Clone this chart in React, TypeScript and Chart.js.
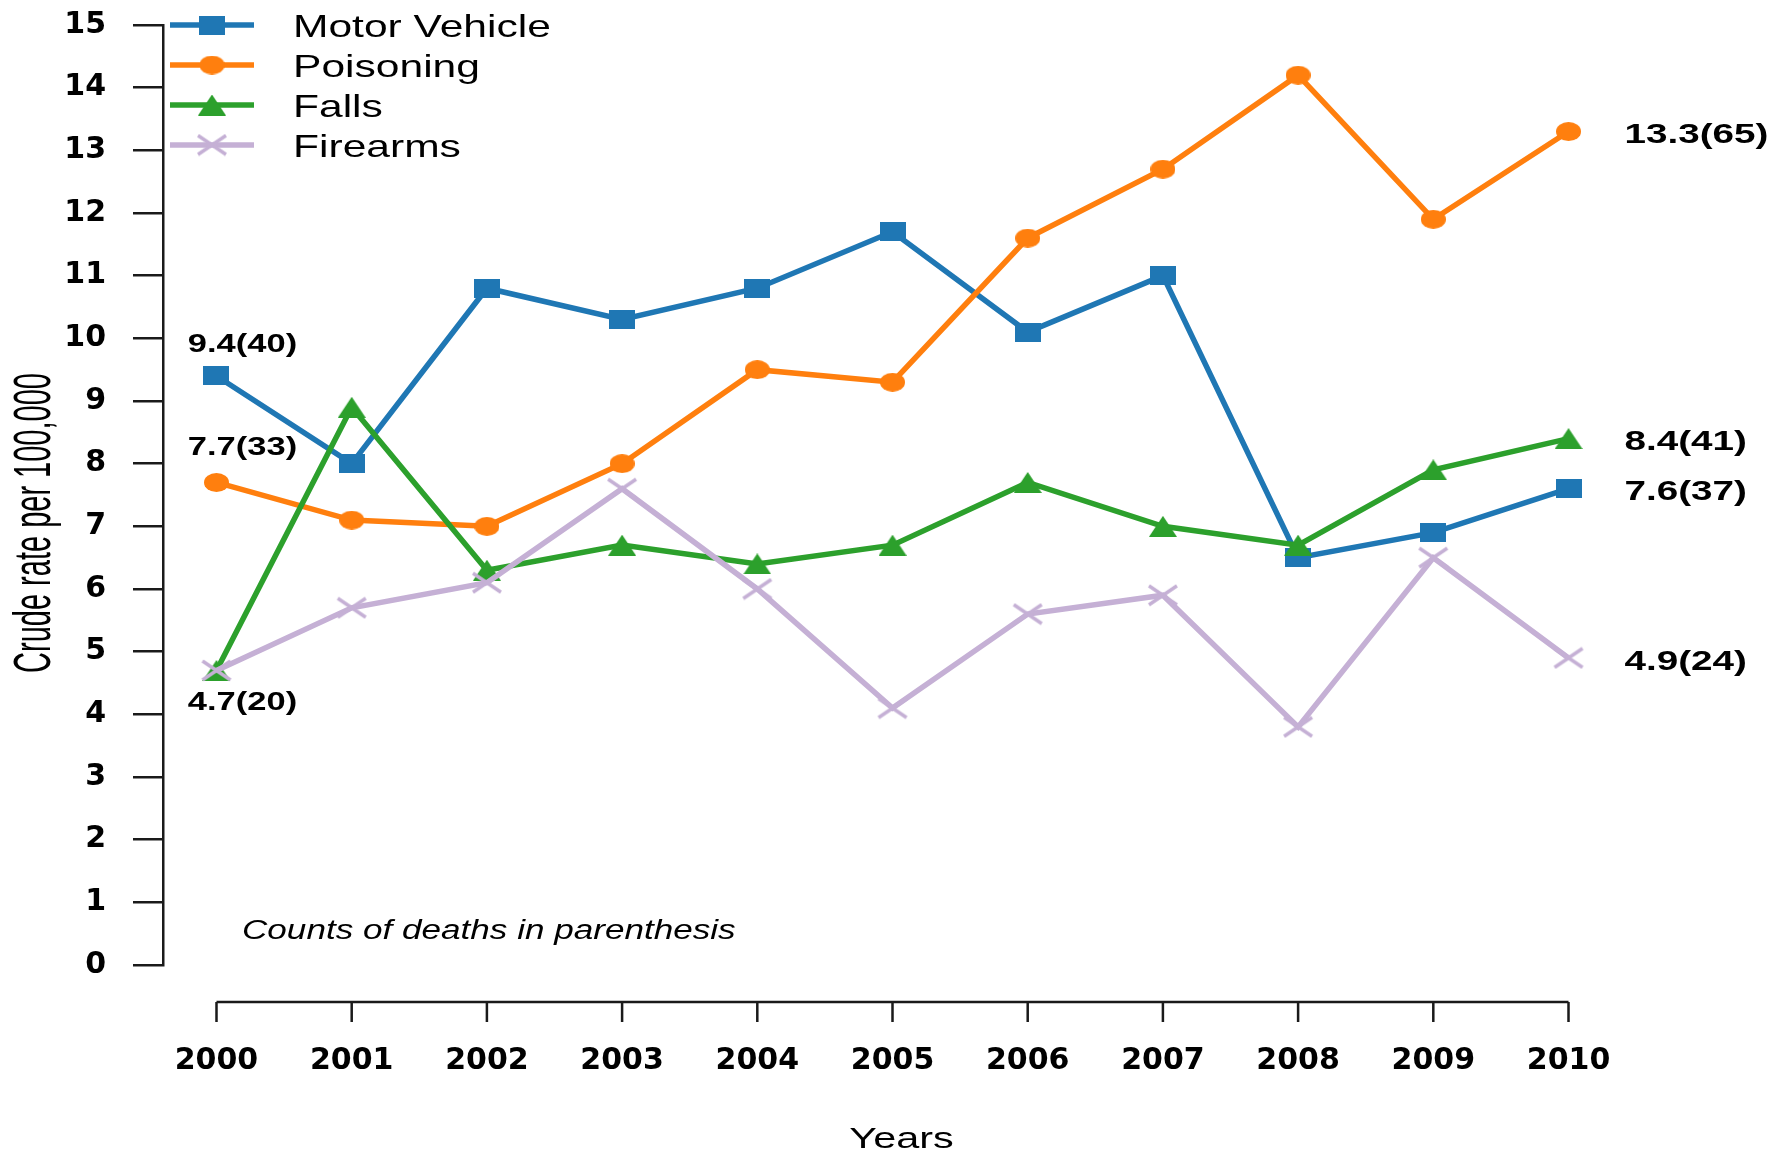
import React, { useEffect, useRef } from 'react';
import { Chart, registerables } from 'chart.js';

Chart.register(...registerables);

// ---------------- data ----------------
const years = [2000, 2001, 2002, 2003, 2004, 2005, 2006, 2007, 2008, 2009, 2010];
const motorVehicle = [9.4, 8.0, 10.8, 10.3, 10.8, 11.7, 10.1, 11.0, 6.5, 6.9, 7.6];
const poisoning = [7.7, 7.1, 7.0, 8.0, 9.5, 9.3, 11.6, 12.7, 14.2, 11.9, 13.3];
const falls = [4.7, 8.9, 6.3, 6.7, 6.4, 6.7, 7.7, 7.0, 6.7, 7.9, 8.4];
const firearms = [4.7, 5.7, 6.1, 7.6, 6.0, 4.1, 5.6, 5.9, 3.8, 6.5, 4.9];
const seriesNames = ['Motor Vehicle', 'Poisoning', 'Falls', 'Firearms'];
const startLabels = ['9.4(40)', '7.7(33)', '', '4.7(20)'];
const endLabels = ['7.6(37)', '13.3(65)', '8.4(41)', '4.9(24)'];
const yTickValues = [0, 1, 2, 3, 4, 5, 6, 7, 8, 9, 10, 11, 12, 13, 14, 15];
const yTitle = 'Crude rate per 100,000';
const xTitle = 'Years';
const noteText = 'Counts of deaths in parenthesis';

// ---------------- styles ----------------
const colors = ['#1f77b4', '#ff7f0e', '#2ca02c', '#c5b0d5'];
const markerKinds = ['square', 'circle', 'triangle', 'cross'];
const startOffsets = [-31, -34, 0, 33];
const X_MIN = 1999.6043;
const X_MAX = 2010.5288;
const AXIS_COLOR = '#1a1a1a';

function makeMarker(kind: string, color: string): HTMLCanvasElement {
  const c = document.createElement('canvas');
  let w = 26, h = 19;
  if (kind === 'circle') { w = 25; h = 19; }
  if (kind === 'triangle') { w = 28; h = 21; }
  if (kind === 'cross') { w = 32; h = 23; }
  c.width = w; c.height = h;
  const g = c.getContext('2d')!;
  g.fillStyle = color;
  g.strokeStyle = color;
  if (kind === 'square') {
    g.fillRect(0, 0, w, h);
  } else if (kind === 'circle') {
    g.beginPath();
    g.ellipse(w / 2, h / 2, w / 2, h / 2, 0, 0, Math.PI * 2);
    g.fill();
  } else if (kind === 'triangle') {
    g.beginPath();
    g.moveTo(0, h);
    g.lineTo(w / 2, 0);
    g.lineTo(w, h);
    g.closePath();
    g.fill();
  } else {
    g.lineWidth = 3.5;
    g.beginPath();
    g.moveTo(2, 2); g.lineTo(w - 2, h - 2);
    g.moveTo(w - 2, 2); g.lineTo(2, h - 2);
    g.stroke();
  }
  return c;
}

function stretchedText(
  ctx: CanvasRenderingContext2D, text: string, x: number, y: number,
  font: string, sx: number, align: CanvasTextAlign,
) {
  ctx.save();
  ctx.translate(x, y);
  ctx.scale(sx, 1);
  ctx.font = font;
  ctx.fillStyle = '#000';
  ctx.textAlign = align;
  ctx.textBaseline = 'middle';
  ctx.fillText(text, 0, 0);
  ctx.restore();
}

export default function App() {
  const ref = useRef<HTMLCanvasElement>(null);

  useEffect(() => {
    const canvas = ref.current!;
    const markers = markerKinds.map((k, i) => makeMarker(k, colors[i]));
    const allSeries = [motorVehicle, poisoning, falls, firearms];

    const deco = {
      id: 'deco',
      afterDraw(chart: any) {
        const ctx: CanvasRenderingContext2D = chart.ctx;
        const xs = chart.scales.x;
        const ys = chart.scales.y;
        const area = chart.chartArea;
        ctx.save();

        // detached x axis (R style)
        const axisY = area.bottom + 37;
        const xa = xs.getPixelForValue(years[0]);
        const xb = xs.getPixelForValue(years[years.length - 1]);
        ctx.strokeStyle = AXIS_COLOR;
        ctx.lineWidth = 2.5;
        ctx.beginPath();
        ctx.moveTo(xa, axisY);
        ctx.lineTo(xb, axisY);
        years.forEach((yr) => {
          const px = xs.getPixelForValue(yr);
          ctx.moveTo(px, axisY);
          ctx.lineTo(px, axisY + 20);
        });
        ctx.stroke();

        // legend
        seriesNames.forEach((name, i) => {
          const ry = area.top + i * 40;
          ctx.strokeStyle = colors[i];
          ctx.lineWidth = 5.5;
          ctx.beginPath();
          ctx.moveTo(170, ry);
          ctx.lineTo(254, ry);
          ctx.stroke();
          const m = markers[i];
          ctx.drawImage(m, 212 - m.width / 2, ry - m.height / 2);
          stretchedText(ctx, name, 293, ry + 3, "32px 'Liberation Sans', Arial, sans-serif", 1.33, 'left');
        });

        // value labels at start and end
        allSeries.forEach((vals, i) => {
          if (startLabels[i]) {
            const px = xs.getPixelForValue(years[0]) + 26;
            const py = ys.getPixelForValue(vals[0]) + startOffsets[i];
            stretchedText(ctx, startLabels[i], px, py, "bold 25px 'Liberation Sans', Arial, sans-serif", 1.38, 'center');
          }
          if (endLabels[i]) {
            const px = xs.getPixelForValue(years[years.length - 1]) + 56;
            const py = ys.getPixelForValue(vals[vals.length - 1]) + 4;
            stretchedText(ctx, endLabels[i], px, py, "bold 28px 'Liberation Sans', Arial, sans-serif", 1.38, 'left');
          }
        });

        // note
        stretchedText(ctx, noteText, 242, 931, "italic 27px 'Liberation Sans', Arial, sans-serif", 1.3, 'left');

        // x title
        stretchedText(ctx, xTitle, (area.left + area.right) / 2, 1140, "30px 'Liberation Sans', Arial, sans-serif", 1.38, 'center');

        // y title (rotated)
        ctx.save();
        ctx.translate(36, 523);
        ctx.scale(1.8, 1);
        ctx.rotate(-Math.PI / 2);
        ctx.font = "29px 'Liberation Sans', Arial, sans-serif";
        ctx.fillStyle = '#000';
        ctx.textAlign = 'center';
        ctx.textBaseline = 'middle';
        ctx.fillText(yTitle, 0, 0);
        ctx.restore();

        ctx.restore();
      },
    };

    const tickFont = { family: "'DejaVu Sans', sans-serif", weight: 'bold' as const, size: 30 };

    const chart = new Chart(canvas, {
      type: 'line',
      data: {
        datasets: allSeries.map((vals, i) => ({
          label: seriesNames[i],
          data: years.map((yr, j) => ({ x: yr, y: vals[j] })),
          borderColor: colors[i],
          backgroundColor: colors[i],
          borderWidth: 5.5,
          pointStyle: markers[i] as any,
          pointRadius: 10,
          pointHoverRadius: 10,
          tension: 0,
          fill: false,
          order: 4 - i,
        })),
      },
      options: {
        responsive: false,
        animation: false,
        events: [],
        layout: { padding: { top: 25, right: 131, left: 0, bottom: 0 } },
        plugins: {
          legend: { display: false },
          tooltip: { enabled: false },
          title: { display: false },
        },
        scales: {
          x: {
            type: 'linear',
            min: X_MIN,
            max: X_MAX,
            bounds: 'data',
            afterBuildTicks: (s: any) => { s.ticks = years.map((v) => ({ value: v })); },
            afterFit: (s: any) => {
              s.height = 189;
              s.paddingLeft = 0; s.paddingRight = 0; s.paddingTop = 0; s.paddingBottom = 0;
            },
            ticks: {
              callback: (v: any) => String(v),
              color: '#000',
              font: tickFont,
              padding: 78,
              autoSkip: false,
              maxRotation: 0,
              minRotation: 0,
            },
            grid: { display: false, drawTicks: false },
            border: { display: false },
          },
          y: {
            type: 'linear',
            min: 0,
            max: 15,
            afterBuildTicks: (s: any) => { s.ticks = yTickValues.map((v) => ({ value: v })); },
            afterFit: (s: any) => {
              s.width = 163;
              s.paddingLeft = 0; s.paddingRight = 0; s.paddingTop = 0; s.paddingBottom = 0;
            },
            ticks: {
              callback: (v: any) => String(v),
              color: '#000',
              font: tickFont,
              padding: 27,
            },
            grid: {
              drawOnChartArea: false,
              drawTicks: true,
              tickLength: 30,
              color: AXIS_COLOR,
              lineWidth: 2.5,
            },
            border: { display: true, color: AXIS_COLOR, width: 2.5 },
          },
        },
      },
      plugins: [deco],
    });

    return () => chart.destroy();
  }, []);

  return (
    <div style={{ position: 'absolute', left: 0, top: 0, width: 1771, height: 1154, overflow: 'hidden', background: '#fff' }}>
      <canvas ref={ref} width={1771} height={1154} style={{ display: 'block', width: 1771, height: 1154 }} />
    </div>
  );
}
